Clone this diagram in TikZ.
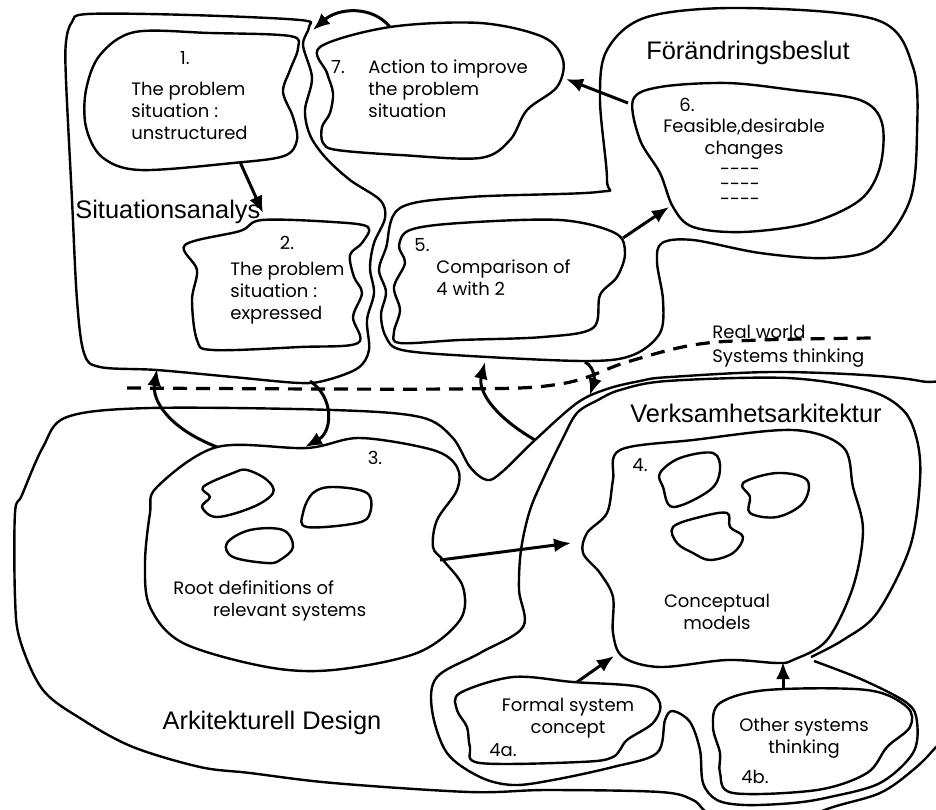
\documentclass[tikz,border=0pt]{standalone}
\usepackage{fontspec}
\newfontfamily\handfont{Poppins}
\newfontfamily\titlefont{Liberation Sans}
\usetikzlibrary{arrows.meta}

\tikzset{
  blob/.style={line width=1.2pt, line join=round},
  flow/.style={->, line width=1.5pt},
  hand/.style={font=\handfont\fontsize{9}{11}\selectfont, inner sep=0pt},
  title/.style={font=\titlefont\fontsize{12.7}{14}\selectfont, inner sep=0pt}
}

\begin{document}
\begin{tikzpicture}[x=0.5pt, y=-0.5pt, >={Latex[length=8.5pt,width=7pt]}]
    \useasboundingbox (0,0) rectangle (936,809);
    \clip (0,0) rectangle (936,809);

    % 1. Omraden: situationsanalys, foerandringsbeslut, arkitektur
    \draw[blob] plot[smooth cycle, tension=0.55] coordinates {(88,14) (190,15) (300,20) (309,27) (303,45) (312,78) (305,110) (310,135) (325,157) (350,180) (380,200) (385,218) (374,243) (370,268) (374,293) (367,320) (369,350) (358,368) (327,380) (300,383) (233,377) (157,370) (100,367) (84,353) (77,300) (72,200) (66,80) (66,42) (72,22)};
    \draw[blob] plot[smooth cycle, tension=0.55] coordinates {(400,208) (470,197) (598,192) (607,180) (600,100) (607,50) (647,17) (743,8) (877,20) (913,67) (917,133) (910,200) (877,247) (827,258) (760,253) (693,240) (662,243) (657,262) (663,300) (660,333) (633,355) (587,361) (470,356) (402,350) (386,337) (381,315) (386,292) (379,270) (386,248)};
    \draw[blob] plot[smooth cycle, tension=0.55] coordinates {(67,417) (150,408) (333,410) (420,417) (452,437) (470,467) (487,480) (502,472) (535,440) (577,403) (607,389) (640,381) (670,377) (787,372) (920,381) (975,410) (975,700) (936,747) (913,770) (880,793) (830,808) (770,830) (712,815) (693,800) (660,792) (547,790) (470,792) (333,783) (250,773) (200,767) (133,747) (83,720) (43,690) (20,640) (15,597) (15,513) (22,495) (43,447)};
    \draw[blob] plot[smooth, tension=0.55] coordinates {(811,657) (843,640) (877,613) (910,547) (920,480) (917,440) (903,410) (867,390) (787,378) (667,381) (620,390) (598,400) (577,413) (562,440) (545,475) (530,510) (521,550) (519,590) (523,627) (480,653) (437,677) (432,710) (447,753) (480,777) (513,785) (553,780) (613,767) (657,753) (665,720) (673,711) (690,722) (700,750) (703,783) (717,800) (745,805) (793,803) (830,797) (880,783) (913,753) (917,722) (907,703) (863,680) (814,661)};

    % 2. Stegen 1, 2, 7, 5 och 6
    \draw[blob] plot[smooth cycle, tension=0.55] coordinates {(135,32) (210,33) (290,36) (298,48) (290,70) (283,92) (293,117) (297,140) (284,156) (233,163) (140,170) (102,157) (86,127) (86,90) (100,55)};
    \draw[blob] plot[smooth cycle, tension=0.55] coordinates {(185,245) (240,231) (262,220) (333,222) (368,227) (362,243) (350,255) (354,277) (362,293) (353,317) (358,343) (300,347) (213,350) (197,340) (192,300) (197,270)};
    \draw[blob] plot[smooth cycle, tension=0.55] coordinates {(320,47) (390,27) (480,23) (543,37) (563,60) (557,87) (527,110) (510,140) (480,158) (400,155) (337,150) (323,143) (322,127) (330,113) (333,93) (327,73)};
    \draw[blob] plot[smooth cycle, tension=0.55] coordinates {(410,230) (460,223) (560,220) (615,233) (625,253) (617,277) (600,295) (593,328) (543,337) (460,340) (400,343) (394,332) (400,310) (394,287) (405,263) (399,246)};
    \draw[blob] plot[smooth cycle, tension=0.55] coordinates {(633,100) (660,87) (727,83) (793,90) (860,100) (882,123) (880,167) (860,200) (810,223) (743,232) (693,227) (673,207) (660,173) (640,140)};

    % 3. Stegen 3, 4, 4a och 4b med smaa system
    \draw[blob] plot[smooth cycle, tension=0.55] coordinates {(157,487) (217,447) (307,448) (360,438) (433,450) (457,467) (457,490) (437,520) (433,547) (443,560) (463,587) (460,620) (417,653) (333,670) (267,667) (183,643) (150,607) (145,563) (150,513)};
    \draw[blob] plot[smooth cycle, tension=0.55] coordinates {(620,450) (693,440) (793,430) (843,447) (853,487) (863,530) (853,587) (827,640) (793,660) (777,663) (727,660) (660,667) (623,657) (613,633) (613,597) (600,573) (583,553) (587,533) (607,513) (613,480)};
    \draw[blob] plot[smooth cycle, tension=0.55] coordinates {(460,693) (513,677) (573,682) (640,687) (660,703) (653,723) (627,740) (613,757) (580,762) (480,763) (470,747) (467,727) (457,710)};
    \draw[blob] plot[smooth cycle, tension=0.55] coordinates {(720,703) (767,690) (867,690) (907,707) (910,727) (887,747) (867,773) (817,790) (733,793) (720,773) (720,753) (713,727)};
    \draw[blob] plot[smooth cycle, tension=0.6] coordinates {(203,487) (233,473) (247,470) (267,480) (273,493) (253,507) (217,517) (202,507) (210,497)};
    \draw[blob] plot[smooth cycle, tension=0.6] coordinates {(313,493) (333,487) (367,493) (370,513) (357,523) (307,527) (303,513)};
    \draw[blob] plot[smooth cycle, tension=0.6] coordinates {(227,543) (250,530) (283,530) (293,547) (280,560) (267,563) (233,557)};
    \draw[blob] plot[smooth cycle, tension=0.6] coordinates {(660,473) (680,458) (713,453) (720,470) (710,490) (673,507) (663,487)};
    \draw[blob] plot[smooth cycle, tension=0.6] coordinates {(743,483) (777,473) (807,480) (803,503) (777,517) (750,513) (750,497)};
    \draw[blob] plot[smooth cycle, tension=0.6] coordinates {(673,527) (700,517) (727,513) (730,527) (743,537) (733,553) (710,560) (693,553) (677,543)};

    % 4. Graensen mellan verklighet och systemtaenkande
    \draw[line width=1.6pt, dash pattern=on 7pt off 4.5pt] plot[smooth, tension=0.6] coordinates {(127,388) (450,389) (560,384) (627,362) (693,345) (760,340) (873,338)};

    % 5. Pilar
    \coordinate (p71) at (390,27);  \coordinate (q71) at (313,30);
    \coordinate (p12) at (240,162); \coordinate (q12) at (263,213);
    \coordinate (p67) at (628,103); \coordinate (q67) at (566,79);
    \coordinate (p56) at (623,238); \coordinate (q56) at (669,207);
    \coordinate (p3s) at (217,447); \coordinate (q3s) at (157,369);
    \coordinate (ps3) at (310,381); \coordinate (qs3) at (305,447);
    \coordinate (p4f) at (535,440); \coordinate (q4f) at (485,362);
    \coordinate (pf4) at (585,362); \coordinate (qf4) at (590,395);
    \coordinate (p34) at (440,560); \coordinate (q34) at (571,543);
    \coordinate (p4a) at (577,682); \coordinate (q4a) at (614,656);
    \coordinate (p4b) at (783,690); \coordinate (q4b) at (783,662);
    \draw[flow] (p71) .. controls (372,5) and (338,8) .. (q71);
    \draw[flow] (p12) -- (q12);
    \draw[flow] (p67) -- (q67);
    \draw[flow] (p56) -- (q56);
    \draw[flow] (p3s) .. controls (168,428) and (152,400) .. (q3s);
    \draw[flow] (ps3) .. controls (335,398) and (332,432) .. (qs3);
    \draw[flow] (p4f) .. controls (492,415) and (478,390) .. (q4f);
    \draw[flow] (pf4) .. controls (596,368) and (594,382) .. (qf4);
    \draw[flow] (p34) -- (q34);
    \draw[flow] (p4a) -- (q4a);
    \draw[flow] (p4b) -- (q4b);

    % 6. Rubriker
    \node[title, anchor=west] (sit) at (75,212) {Situationsanalys};
    \node[title] (fb) at (748,53) {Förändringsbeslut};
    \node[title] (va) at (756,413) {Verksamhetsarkitektur};
    \node[title] (ad) at (272,723) {Arkitekturell Design};

    % 7. Texter i stegen
    \node[hand] (n1) at (185,58) {1.};
    \node[hand, anchor=west, align=left] (t1) at (131,111) {The problem\\situation :\\unstructured};
    \node[hand] (n2) at (287,243) {2.};
    \node[hand, anchor=west, align=left] (t2) at (230,293) {The problem\\situation :\\expressed};
    \node[hand] (n7) at (338,67) {7.};
    \node[hand, anchor=west, align=left] (t7) at (368,89) {Action to improve\\the problem\\situation};
    \node[hand] (n5) at (422,245) {5.};
    \node[hand, anchor=west, align=left] (t5) at (436,278) {Comparison of\\4 with 2};
    \node[hand] (n6) at (687,105) {6.};
    \node[hand, align=center] (t6) at (744,139) {Feasible,desirable\\changes};
    \node[hand, align=center, font=\handfont\fontsize{9}{7.5}\selectfont] (d6) at (740,187) {-{}-{}-{}-\\-{}-{}-{}-\\-{}-{}-{}-};
    \node[hand, anchor=west] (rw) at (712,332) {Real world};
    \node[hand, anchor=west] (st) at (712,358) {Systems thinking};
    \node[hand] (n3) at (375,458) {3.};
    \node[hand, anchor=west, align=left] (t3) at (173,601) {Root definitions of\\\hspace*{2.2em}relevant systems};
    \node[hand] (n4) at (640,465) {4.};
    \node[hand, align=center] (t4) at (717,612) {Conceptual\\models};
    \node[hand, align=center] (t4a) at (568,718) {Formal system\\concept};
    \node[hand] (n4a) at (503,750) {4a.};
    \node[hand, align=center] (t4b) at (804,738) {Other systems\\thinking};
    \node[hand] (n4b) at (755,777) {4b.};

\end{tikzpicture}
\end{document}
